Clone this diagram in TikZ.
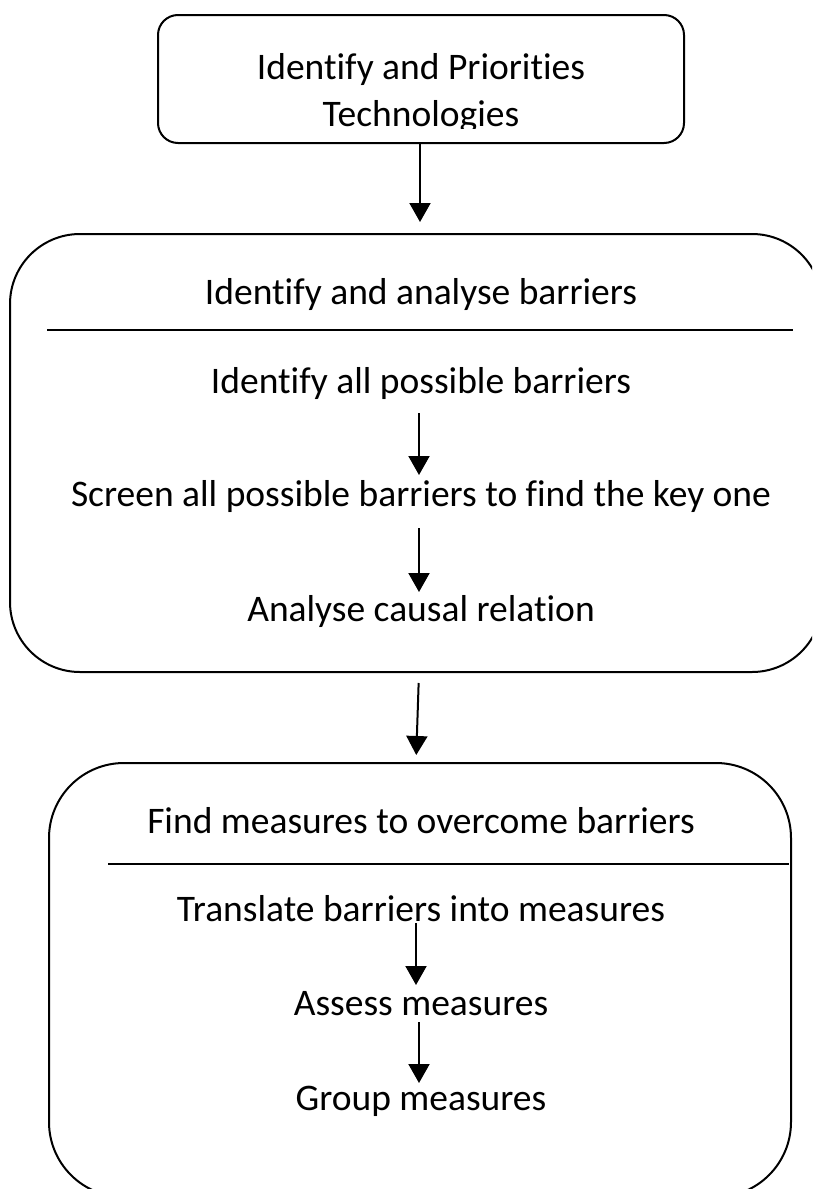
\documentclass[tikz,border=0pt]{standalone}
\usepackage{fontspec}
\setmainfont{Carlito}[Ligatures=NoCommon]
\usetikzlibrary{arrows.meta}
\begin{document}
\begin{tikzpicture}[x=1pt,y=-1pt,
  box/.style={draw=black,line width=2pt,inner sep=0pt,outer sep=0pt},
  txt/.style={inner sep=0pt,outer sep=0pt,text height=27pt,text depth=9pt,anchor=base,font=\fontsize{37.5}{45}\selectfont},
  arr/.style={line width=2pt,-{Triangle[width=21pt,length=19pt]}},
  sepline/.style={line width=2pt}]
\clip (0,0) rectangle (812,1189);
\fill[white] (0,0) rectangle (812,1189);
% boxes
\node[box,rounded corners=20pt,minimum width=526pt,minimum height=128pt] (top) at (421,79) {};
\node[box,rounded corners=70pt,minimum width=812pt,minimum height=438pt] (mid) at (416,453) {};
\node[box,rounded corners=75pt,minimum width=742pt,minimum height=434pt] (bot) at (420,980) {};
% top texts
\node[txt] (t1) at (421,79) {Identify and Priorities};
\begin{scope}
  \clip (150,10) rectangle (690,128);
  \node[txt] (t2) at (421,126) {Technologies};
\end{scope}
% middle box
\node[txt] (midtitle) at (421,304) {Identify and analyse barriers};
\draw[sepline] (47,330) -- (793,330);
\node[txt] (id1) at (421,393) {Identify all possible barriers};
\node[txt] (screen) at (421,506) {Screen all possible barriers to find the key one};
\node[txt] (analyse) at (421,621) {Analyse causal relation};
% bottom box
\node[txt] (bottitle) at (421,833) {Find measures to overcome barriers};
\draw[sepline] (108,864) -- (789,864);
\node[txt] (translate) at (421,921) {Translate barriers into measures};
\node[txt] (assess) at (421,1015) {Assess measures};
\node[txt] (group) at (421,1110) {Group measures};
% arrows
\draw[arr,shorten >=12pt] ([xshift=-1pt]top.south) -- ([xshift=-1pt]top.south |- mid.north);
\draw[arr,shorten <=11pt,shorten >=4pt] ([xshift=-2pt]id1.south) -- ([xshift=-2pt]screen.north);
\draw[arr,shorten <=13pt,shorten >=2pt] ([xshift=-2pt]screen.south) -- ([xshift=-2pt]analyse.north);
\draw[arr,shorten <=11pt,shorten >=8pt] ([xshift=3pt]mid.south) -- ([xshift=-4pt]bot.north);
\draw[arr,shorten <=-7pt,shorten >=3pt] ([xshift=-5pt]translate.south) -- ([xshift=-5pt]assess.north);
\draw[arr,shorten <=-2pt,shorten >=0pt] ([xshift=-2pt]assess.south) -- ([xshift=-2pt]group.north);
\end{tikzpicture}
\end{document}
